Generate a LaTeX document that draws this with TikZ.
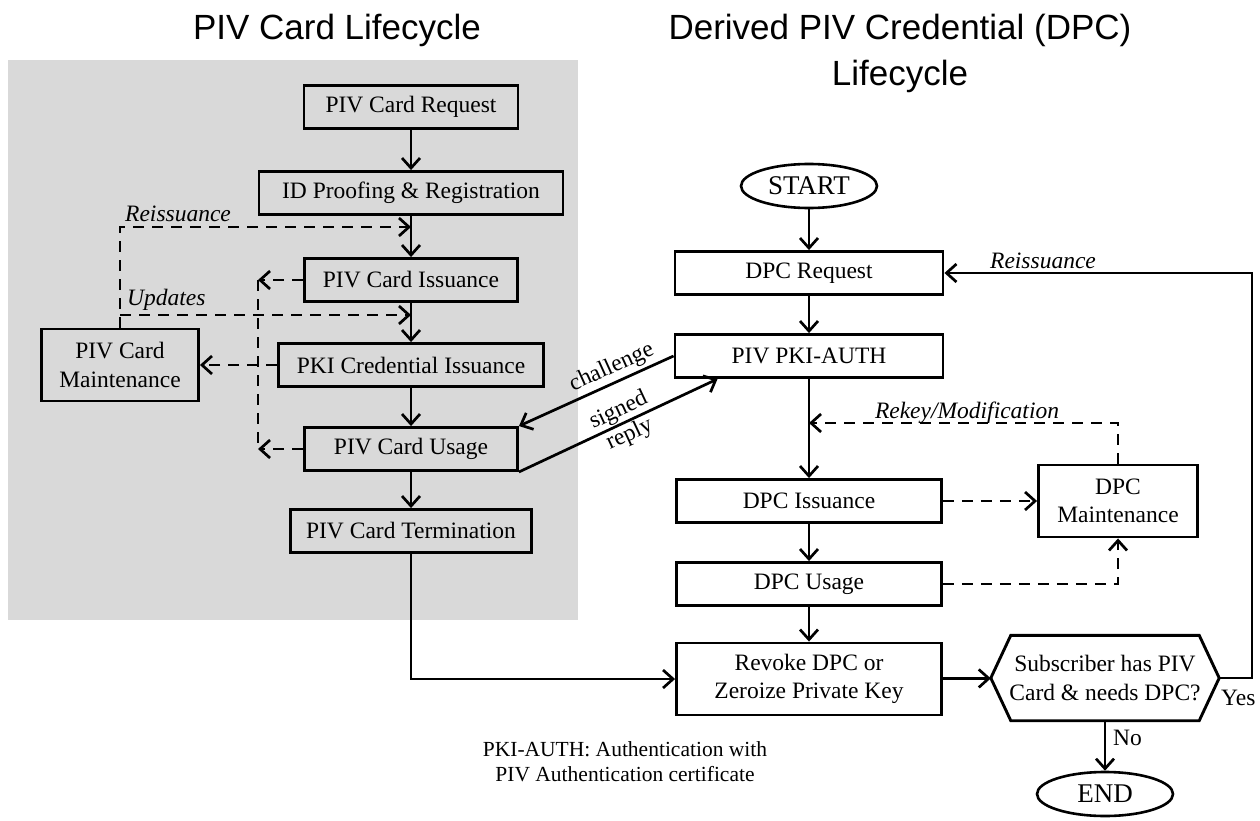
\documentclass[tikz,border=0pt]{standalone}
\usepackage{fontspec}
\setmainfont{Liberation Serif}
\newfontfamily\titlefont{Liberation Sans}
\usetikzlibrary{arrows.meta,shapes.geometric}
\definecolor{bggrey}{RGB}{217,217,217}

\begin{document}
\begin{tikzpicture}[x=1pt,y=-1pt]
    \tikzset{%
      box/.style={draw, line width=2.9pt, inner sep=0pt, minimum
        height=43pt, align=center, font=\fontsize{23.5}{28.5}\selectfont},
      oval/.style={ellipse, draw, line width=2.6pt, inner sep=0pt,
        minimum width=136pt, minimum height=44pt, font=\fontsize{27}{30}\selectfont},
      arr/.style={line width=2.7pt, -{Straight Barb[length=10pt,width=18pt]}},
      dline/.style={arr, dash pattern=on 11pt off 8pt},
      lbl/.style={inner sep=0pt, font=\fontsize{23.5}{26}\selectfont},
      heading/.style={inner sep=0pt, font=\titlefont\fontsize{35}{46}\selectfont},
    }
    \useasboundingbox (0,0) rectangle (1260,821);
    \fill[bggrey] (8,60) rectangle (578,620);

    % headings
    \node[heading, anchor=base] (h1) at (337,40) {PIV Card Lifecycle};
    \node[heading, anchor=base] (h2) at (900,40) {Derived PIV Credential (DPC)};
    \node[heading, anchor=base] (h3) at (900,86) {Lifecycle};

    % PIV card side
    \node[box, minimum width=214pt] (req) at (411,107) {PIV Card Request};
    \node[box, minimum width=304pt] (idp) at (411,193) {ID Proofing \& Registration};
    \node[box, minimum width=213pt] (iss) at (411,280) {PIV Card Issuance};
    \node[box, minimum width=265pt] (pki) at (411,365) {PKI Credential Issuance};
    \node[box, minimum width=213pt] (use) at (411,449) {PIV Card Usage};
    \node[box, minimum width=241pt] (term) at (411,531) {PIV Card Termination};
    \node[box, minimum width=157pt, minimum height=72pt] (maint) at (120,365)
      {PIV Card\\Maintenance};

    \draw[arr] (req) -- (idp);
    \draw[arr] (idp) -- (iss);
    \draw[arr] (iss) -- (pki);
    \draw[arr] (pki) -- (use);
    \draw[arr] (use) -- (term);

    \coordinate (reiss) at (411,227);
    \coordinate (upd) at (411,315);
    \coordinate (bus) at (258,0);
    \draw[dline] (maint.north) |- (reiss);
    \draw[dline] (maint.north |- upd) -- (upd);
    \draw[dline] (iss.west) -- (iss.west -| bus);
    \draw[dline] (use.west) -- (use.west -| bus);
    \draw[line width=2.7pt, dash pattern=on 11pt off 8pt] (iss.west -| bus) -- (use.west -| bus);
    \draw[dline] (pki.west) -- (maint.east);
    \node[lbl, anchor=base west] (lreiss) at (125,222) {\textit{Reissuance}};
    \node[lbl, anchor=base west] (lupd) at (127,305) {\textit{Updates}};

    % DPC side
    \node[oval] (start) at (809,186) {START};
    \node[box, minimum width=268pt] (dreq) at (809,273) {DPC Request};
    \node[box, minimum width=268pt] (auth) at (809,356) {PIV PKI-AUTH};
    \node[box, minimum width=265pt] (diss) at (809,501) {DPC Issuance};
    \node[box, minimum width=265pt] (duse) at (809,584) {DPC Usage};
    \node[box, minimum width=265pt, minimum height=72pt] (revoke) at (809,679)
      {Revoke DPC or\\Zeroize Private Key};
    \node[box, minimum width=159pt, minimum height=72pt] (dmaint) at (1118,501)
      {DPC\\Maintenance};
    \node[inner sep=0pt, minimum width=228pt, minimum height=85pt, align=center,
      font=\fontsize{23.5}{28.5}\selectfont] (check) at (1105,678)
      {Subscriber has PIV\\Card \& needs DPC?};
    \draw[line width=2.9pt] (check.west) -- ([xshift=20pt]check.north west)
      -- ([xshift=-20pt]check.north east) -- (check.east)
      -- ([xshift=-20pt]check.south east) -- ([xshift=20pt]check.south west) -- cycle;
    \node[oval] (fin) at (1105,794) {END};

    \draw[arr] (start) -- (dreq);
    \draw[arr] (dreq) -- (auth);
    \draw[arr] (auth) -- (diss);
    \draw[arr] (diss) -- (duse);
    \draw[arr] (duse) -- (revoke);
    \draw[arr] (revoke) -- (check);
    \draw[arr] (check) -- (fin);
    \draw[arr] (term.south) |- (revoke.west);

    \coordinate (rekey) at (809,423);
    \draw[dline] (dmaint.north) |- (rekey);
    \draw[dline] (diss) -- (dmaint);
    \draw[dline] (duse.east) -| (dmaint.south);

    \coordinate (yline) at (1252,0);
    \draw[arr] (check.east) -- (check.east -| yline) |- (dreq.east);

    % challenge / reply between the two sides
    \draw[arr] (auth.west) -- (use.north east)
      node[lbl, pos=0.36, sloped, above=3pt] {challenge};
    \draw[arr] (use.south east) -- ([xshift=44pt]auth.south west)
      node[lbl, pos=0.53, sloped, align=center] {signed\\reply};

    \node[lbl, anchor=base] (lrekey) at (967,418) {\textit{Rekey/Modification}};
    \node[lbl, anchor=base] (lreiss2) at (1043,268) {\textit{Reissuance}};
    \node[lbl, anchor=base west] (lyes) at (1221,705) {Yes};
    \node[lbl, anchor=base west] (lno) at (1113,745) {No};
    \node[lbl, align=center, font=\fontsize{21.5}{25}\selectfont] (note) at (625,762)
      {PKI-AUTH: Authentication with\\PIV Authentication certificate};
\end{tikzpicture}
\end{document}
